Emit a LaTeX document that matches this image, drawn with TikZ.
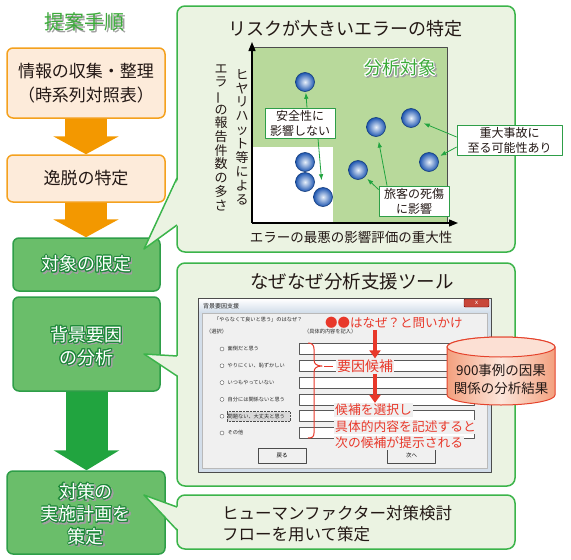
\documentclass[tikz,border=0pt]{standalone}
\usepackage{fontspec}
\setmainfont{Noto Sans CJK JP}
\usepackage{graphicx}
\usepackage{contour}
\contourlength{1pt}
\usetikzlibrary{arrows.meta,calc}

\definecolor{panelfill}{HTML}{EBF3E2}
\definecolor{panelline}{HTML}{3BB44A}
\definecolor{orfill}{HTML}{FDEBDA}
\definecolor{orline}{HTML}{F4A11E}
\definecolor{orarrow}{HTML}{F39800}
\definecolor{gfill}{HTML}{6ABE6A}
\definecolor{gline}{HTML}{2E9E48}
\definecolor{garrow}{HTML}{21A43F}
\definecolor{gtext}{HTML}{1E8A3A}
\definecolor{titleg}{HTML}{3CAA3A}
\definecolor{chartg}{HTML}{B8D99B}
\definecolor{redtxt}{HTML}{E8382A}
\definecolor{winbg}{HTML}{F0F0F0}
\definecolor{winframe}{HTML}{D3DEEA}
\definecolor{closered}{HTML}{C8473A}
\definecolor{ballout}{HTML}{1D55B0}
\definecolor{ballin}{HTML}{E8F0FA}
\definecolor{cylline}{HTML}{E5432C}
\definecolor{cylside}{HTML}{F3A07E}
\definecolor{cylmid}{HTML}{FCE6DB}
\definecolor{cyltop}{HTML}{FCE0D4}
\definecolor{txt}{HTML}{231815}

\newcommand\fs[1]{\fontsize{#1}{#1}\selectfont}

\begin{document}
\begin{tikzpicture}[x=1pt,y=-1pt,line join=round,
  panel/.style={draw=panelline,line width=1.5pt,fill=panelfill,rounded corners=8pt},
  orbox/.style={draw=orline,line width=1.5pt,fill=orfill,rounded corners=6pt,text=txt},
  gbox/.style={draw=gline,line width=1.5pt,fill=gfill,rounded corners=6pt},
  bigor/.style={draw=orarrow,line width=42pt,-{Triangle[length=18pt,width=65pt]}},
  biggr/.style={draw=garrow,line width=42pt,-{Triangle[length=20pt,width=65pt]}},
  wtxt/.style={text=white,inner sep=0pt},
  shtxt/.style={text=gray!75,inner sep=0pt},
  ball/.style={circle,minimum size=19pt,inner sep=0pt,draw=ballout!70!black,line width=0.6pt,inner color=ballin,outer color=ballout},
  lbl/.style={draw=gline,fill=white,line width=0.8pt,align=center,inner sep=2pt,text=txt,font=\fontsize{12}{15}\selectfont},
  garr/.style={draw=garrow,line width=0.8pt,-{Latex[length=6pt,width=4.5pt]}},
  axisline/.style={draw=black,line width=1.3pt,-{Triangle[length=9pt,width=7pt]}},
  wt/.style={inner sep=0pt,font=\fs{5.2},text=black!85},
  radio/.style={circle,draw=gray!70!black,fill=white,inner sep=0pt,minimum size=4pt,line width=0.4pt},
  btn/.style={draw=gray!60!black,fill=gray!12,minimum width=48pt,minimum height=15pt,font=\fs{5.5},inner sep=0pt,line width=0.4pt},
  rt/.style={text=redtxt,inner sep=1pt},
  redarr/.style={draw=redtxt,line width=3.5pt,-{Triangle[length=8pt,width=11pt]}}
]
\useasboundingbox (0,0) rectangle (571,560);

% ---------- panels ----------
\draw[panel] (177,6) rectangle (515,252);
\draw[panel] (177,263) rectangle (515,486);
\draw[panel] (177,495) rectangle (515,549);

% ---------- left column ----------
\node[shtxt,font=\fs{20}] at (86.5,23.5) {提案手順};
\node[text=titleg,inner sep=0pt,font=\fs{20}] (title) at (85,22) {提案手順};

\node[orbox,minimum width=158pt,minimum height=70pt,align=center,font=\fontsize{17}{24}\selectfont] (bx1) at (86,83) {情報の収集・整理\\（時系列対照表）};
\node[orbox,minimum width=158pt,minimum height=47pt,font=\fs{17}] (bx2) at (86,178.5) {逸脱の特定};
\node[gbox,minimum width=147pt,minimum height=53pt] (bx3) at (86.5,264.5) {};
\node[gbox,minimum width=147pt,minimum height=94pt] (bx4) at (86.5,344) {};
\node[gbox,minimum width=158pt,minimum height=83pt] (bx5) at (86,512.5) {};

\draw[bigor] (bx1.south) -- (bx2.north);
\draw[bigor] (bx2.south) -- (bx2.south |- bx3.north);
\draw[biggr] (bx4.south) -- (bx4.south |- bx5.north);

\node[shtxt,font=\fs{18}] at (88,266) {\contour{gray!75}{対象の限定}};
\node[wtxt,font=\fs{18}] (t3) at (86.5,264.5) {\contour{gtext}{対象の限定}};
\node[shtxt,align=center,font=\fontsize{18}{23}\selectfont] at (88,348) {\contour{gray!75}{背景要因}\\\contour{gray!75}{の分析}};
\node[wtxt,align=center,font=\fontsize{18}{23}\selectfont] (t4) at (86.5,346.5) {\contour{gtext}{背景要因}\\\contour{gtext}{の分析}};
\node[shtxt,align=center,font=\fontsize{18}{22.5}\selectfont] at (87.5,516) {\contour{gray!75}{対策の}\\\contour{gray!75}{実施計画を}\\\contour{gray!75}{策定}};
\node[wtxt,align=center,font=\fontsize{18}{22.5}\selectfont] (t5) at (86,514.5) {\contour{gtext}{対策の}\\\contour{gtext}{実施計画を}\\\contour{gtext}{策定}};

% ---------- callout pointers ----------
\coordinate (p1t) at (144,249); \coordinate (p1a) at (177,178); \coordinate (p1b) at (177,225);
\fill[panelfill] (p1t) -- ([xshift=1.6pt]p1a) -- ([xshift=1.6pt]p1b) -- cycle;
\draw[panelline,line width=1.5pt] (p1a) -- (p1t) -- (p1b);
\coordinate (p2t) at (144,354); \coordinate (p2a) at (177,356); \coordinate (p2b) at (177,376);
\fill[panelfill] (p2t) -- ([xshift=1.6pt]p2a) -- ([xshift=1.6pt]p2b) -- cycle;
\draw[panelline,line width=1.5pt] (p2a) -- (p2t) -- (p2b);
\coordinate (p3t) at (144,495); \coordinate (p3a) at (177,507); \coordinate (p3b) at (177,530);
\fill[panelfill] (p3t) -- ([xshift=1.6pt]p3a) -- ([xshift=1.6pt]p3b) -- cycle;
\draw[panelline,line width=1.5pt] (p3a) -- (p3t) -- (p3b);

% ---------- panel 1 : chart ----------
\node[font=\fs{18},text=txt] (pt1) at (345,29) {リスクが大きいエラーの特定};
\fill[chartg] (252,47) rectangle (447,223);
\fill[white] (252,147) rectangle (333,223);
\draw[gray!60!black,line width=0.5pt] (252,47) -- (447,47) -- (447,223);
\coordinate (O) at (252,223);
\coordinate (Yt) at (252,42);
\coordinate (Xt) at (458,223);
\draw[axisline] (O) -- (Yt);
\draw[axisline] (O) -- (Xt);

\node[shtxt,font=\fs{18}] at (401.5,69.5) {\contour{gray!75}{分析対象}};
\node[text=titleg,inner sep=0pt,font=\fs{18}] (tgt) at (400,68) {\contour{white}{分析対象}};

\node[align=center,inner sep=0pt,text=txt,font=\fontsize{13}{13.9}\selectfont] (ylab1) at (242,137) {ヒ\\ヤ\\リ\\ハ\\ッ\\ト\\等\\に\\よ\\る};
\node[align=center,inner sep=0pt,text=txt,font=\fontsize{13}{13.7}\selectfont] (ylab2) at (221,137.5) {エ\\ラ\\\rotatebox[origin=c]{90}{ー}\\の\\報\\告\\件\\数\\の\\多\\さ};
\node[inner sep=0pt,text=txt,font=\fs{13.5}] (xlab) at (351,237) {エラーの最悪の影響評価の重大性};

\node[ball] (k1) at (305,82) {};
\node[ball] (k2) at (305,162) {};
\node[ball] (k3) at (305,182) {};
\node[ball] (k4) at (323,197) {};
\node[ball] (k5) at (358,170) {};
\node[ball] (k6) at (376,127) {};
\node[ball] (k7) at (411,118) {};
\node[ball] (k8) at (429,162) {};

\node[lbl,minimum width=70pt,minimum height=30pt] (L1) at (300,123) {安全性に\\影響しない};
\node[lbl,minimum width=105pt,minimum height=29pt] (L2) at (509.5,140.5) {重大事故に\\至る可能性あり};
\node[lbl,minimum width=70pt,minimum height=28pt] (L3) at (414,201) {旅客の死傷\\に影響};

\draw[garr,shorten >=1pt] ([xshift=7pt]L1.north) -- (k1);
\draw[garr,shorten >=7pt] ([xshift=18pt]L1.south) -- (k4);
\draw[garr,shorten >=4pt] ([yshift=3.5pt]L2.west) -- (k7);
\draw[garr,shorten >=3pt] ([yshift=-6.5pt]L2.west) -- (k8);
\draw[garr,shorten >=5pt] ([xshift=-27pt]L3.north) -- (k6);
\draw[garr,shorten >=3pt] ([yshift=-4pt]L3.north west) -- (k5);

% ---------- panel 2 : tool ----------
\node[font=\fs{18.5},text=txt] (pt2) at (352,282) {なぜなぜ分析支援ツール};
\draw[fill=winframe,draw=gray!60!black,line width=0.5pt] (198,298) rectangle (491,472);
\fill[top color=white,bottom color=winframe] (199,299) rectangle (490,312);
\node[anchor=west,inner sep=0pt,font=\fs{6},text=black!85] (wtitle) at (203,306) {背景要因支援};
\draw[fill=closered,draw=red!40!black,rounded corners=1pt,line width=0.4pt] (464,299) rectangle (489,307);
\node[inner sep=0pt,font=\fs{6},text=white] (wclose) at (476.5,302.5) {x};
\draw[fill=winbg,draw=gray!55,line width=0.4pt] (202,313) rectangle (487,468);

\node[wt,anchor=west] (wq) at (214,320) {「やらなくて良いと思う」のはなぜ？};
\node[wt,anchor=west] (wsel) at (206,332) {（選択）};
\node[wt,anchor=west] (wdet) at (304,332) {（具体的内容を記入）};

\draw[fill=gray!30,draw=gray!60!black,densely dotted,line width=0.4pt] (227,411.5) rectangle (290,421);
\foreach \i/\txt in {0/面倒だと思う,1/やりにくい、恥ずかしい,2/いつもやっていない,3/自分には関係ないと思う,4/問題ない、大丈夫と思う,5/その他}{
  \node[radio] (r\i) at (222,{349+16.8*\i}) {};
  \node[wt,anchor=west] (o\i) at (227.5,{349+16.8*\i}) {\txt};
  \draw[fill=white,draw=gray!70!black,line width=0.5pt] (299,{349+16.8*\i-5.5}) rectangle (474,{349+16.8*\i+5.5});
}
\node[btn] (back) at (282,455.5) {戻る};
\node[btn] (next) at (411.5,455.5) {次へ};

\node[rt,anchor=west,font=\fs{12.5}] (q) at (324,323) {●●はなぜ？と問いかけ};
\node[rt,anchor=west,font=\fs{14},fill=winbg] (kouho) at (336,366) {要因候補};
\node[rt,anchor=west,font=\fs{12.8},fill=winbg] (s1) at (334,410) {候補を選択し};
\node[rt,anchor=west,font=\fs{12.8},fill=winbg] (s2) at (334,427) {具体的内容を記述すると};
\node[rt,anchor=west,font=\fs{12.8},fill=winbg] (s3) at (334,443) {次の候補が提示される};
\coordinate (ax) at (375,0);
\draw[redarr] (q.south -| ax) -- (kouho.north -| ax);
\draw[redarr] (kouho.south -| ax) -- (s1.north -| ax);
\draw[redtxt,line width=1pt] (308,343) .. controls (312,343) and (314,345) .. (314,349) -- (314,360) .. controls (314,364) and (317,366) .. (322,366) .. controls (317,366) and (314,368) .. (314,372) -- (314,433) .. controls (314,437) and (312,438) .. (308,438);
\draw[redtxt,line width=1pt] (324,366) -- ([xshift=-3pt]kouho.west);

% cylinder
\path[draw=cylline,line width=1pt,left color=cylside,right color=cylside,middle color=cylmid]
  (447,347) -- (447,395) arc[start angle=180,end angle=360,x radius=54pt,y radius=10pt]
  -- (555,347) arc[start angle=0,end angle=180,x radius=54pt,y radius=10pt] -- cycle;
\draw[draw=cylline,line width=1pt,fill=cyltop] (501,347) ellipse[x radius=54pt,y radius=10pt];
\node[align=center,inner sep=0pt,text=txt,font=\fontsize{13.5}{18}\selectfont] (db) at (501,379) {900事例の因果\\関係の分析結果};

% ---------- panel 3 ----------
\node[anchor=west,align=left,inner sep=0pt,text=txt,font=\fontsize{16.5}{21}\selectfont] (pt3) at (222,523.5) {ヒューマンファクター対策検討\\フローを用いて策定};
\end{tikzpicture}
\end{document}
